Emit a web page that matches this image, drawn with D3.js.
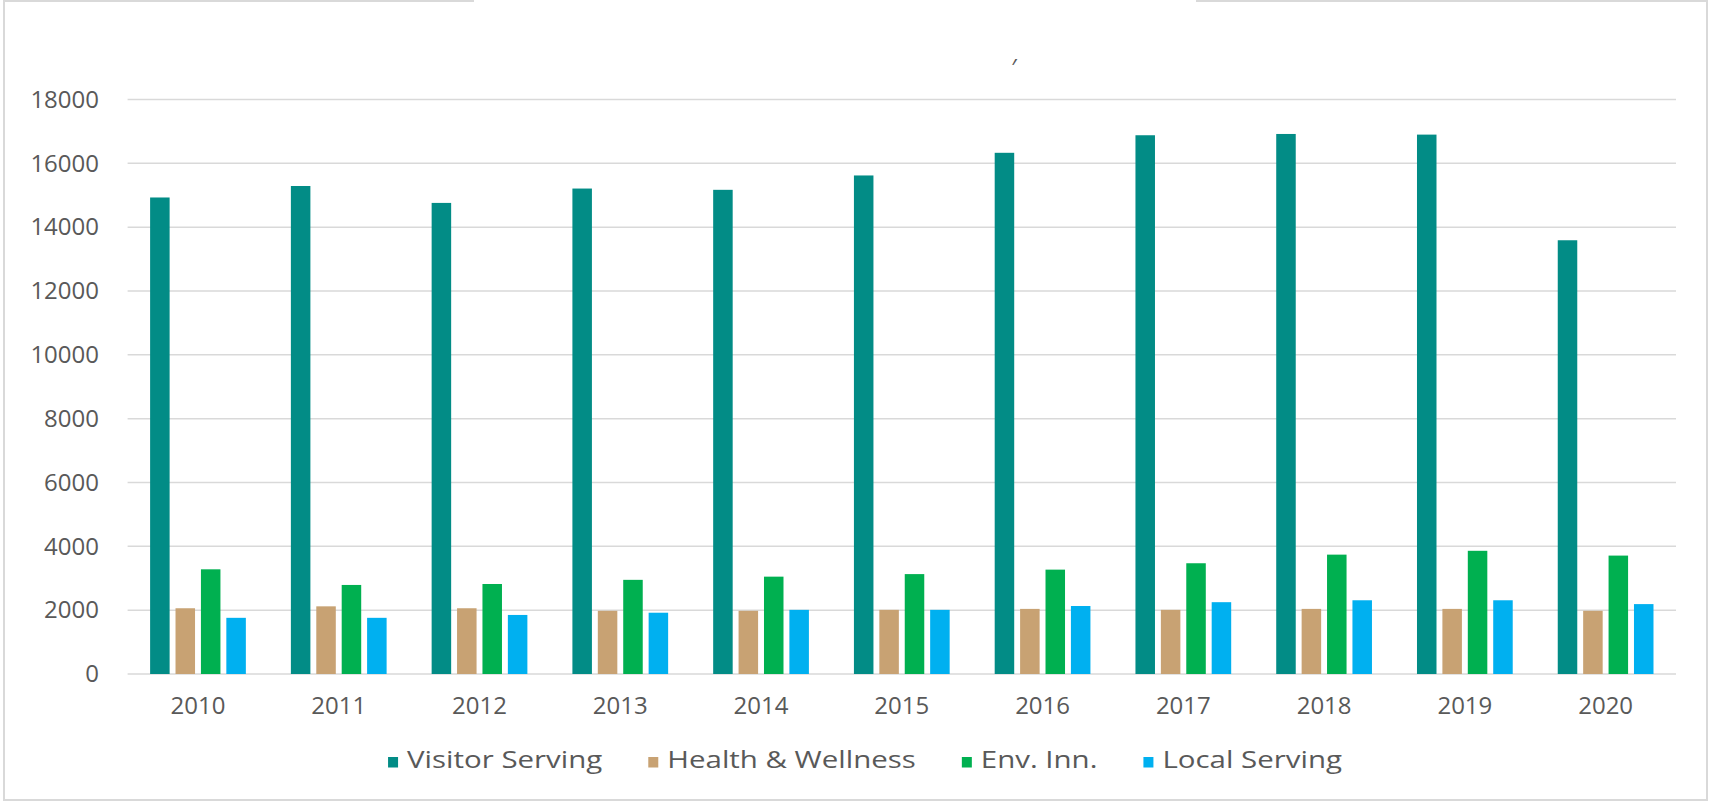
<!DOCTYPE html>
<meta charset="utf-8">
<style>
body { margin: 0; background: #fff; }
svg { display: block; font-family: "Open Sans", sans-serif; }
.axis path, .axis line { display: none; }
.axis text { fill: #595959; font-size: 24px; font-family: "Open Sans", sans-serif; }
.grid line { stroke: #d9d9d9; stroke-width: 1.5px; }
.frame { fill: none; stroke: #d9d9d9; stroke-width: 2px; }
.legend text { fill: #595959; font-size: 23px; font-family: "Open Sans", sans-serif; }
</style>
<body>
<svg width="1710" height="804"></svg>
<script src="https://d3js.org/d3.v7.min.js"></script>
<script>
var years = ["2010", "2011", "2012", "2013", "2014", "2015", "2016", "2017", "2018", "2019", "2020"];
var seriesNames = ["Visitor Serving", "Health & Wellness", "Env. Inn.", "Local Serving"];
var visitorServing = [14930, 15290, 14760, 15210, 15170, 15620, 16330, 16880, 16920, 16900, 13590];
var healthWellness = [2060, 2120, 2060, 1980, 1980, 2010, 2040, 2010, 2040, 2040, 1980];
var envInn = [3280, 2790, 2820, 2950, 3050, 3130, 3270, 3470, 3740, 3860, 3710];
var localServing = [1760, 1760, 1850, 1920, 2010, 2010, 2130, 2250, 2310, 2310, 2190];
var yTicks = [0, 2000, 4000, 6000, 8000, 10000, 12000, 14000, 16000, 18000];
var colors = ["#028c86", "#c8a273", "#00b050", "#00b0f0"];

var seriesValues = [visitorServing, healthWellness, envInn, localServing];

var svg = d3.select("svg"),
    margin = {top: 99.5, right: 34, bottom: 130, left: 127.6},
    width = +svg.attr("width") - margin.left - margin.right,
    height = +svg.attr("height") - margin.top - margin.bottom;

// outer frame, top edge has a gap in the middle like the source image
svg.append("path")
    .attr("class", "frame")
    .attr("d", "M474,1 H4 V800 H1707 V1 H1196");

// stray mark where the title used to be
svg.append("text")
    .attr("x", 1014)
    .attr("y", 76)
    .attr("text-anchor", "middle")
    .style("font-size", "24px")
    .style("fill", "#595959")
    .text("′");

var g = svg.append("g").attr("transform", "translate(" + margin.left + "," + margin.top + ")");

var x0 = d3.scaleBand().domain(years).range([0, width]).padding(0);
var x1 = d3.scaleBand().domain(seriesNames).range([0, x0.bandwidth()])
    .paddingInner(0.232).paddingOuter(0.886);
var y = d3.scaleLinear().domain([0, 18000]).range([height, 0]);
var z = d3.scaleOrdinal().domain(seriesNames).range(colors);

g.append("g")
    .attr("class", "grid")
  .selectAll("line")
  .data(yTicks)
  .enter().append("line")
    .attr("x1", 0)
    .attr("x2", width)
    .attr("y1", function(d) { return y(d); })
    .attr("y2", function(d) { return y(d); });

g.append("g")
    .attr("class", "axis axis--y")
    .call(d3.axisLeft(y).tickValues(yTicks).tickSize(0).tickPadding(28.6).tickFormat(d3.format("d")));

g.append("g")
    .attr("class", "axis axis--x")
    .attr("transform", "translate(0," + height + ")")
    .call(d3.axisBottom(x0).tickSize(0).tickPadding(23));

var data = years.map(function(yr, i) {
  return {year: yr, values: seriesNames.map(function(s, j) { return {key: s, value: seriesValues[j][i]}; })};
});

g.selectAll(".year")
  .data(data)
  .enter().append("g")
    .attr("class", "year")
    .attr("transform", function(d) { return "translate(" + x0(d.year) + ",0)"; })
  .selectAll("rect")
  .data(function(d) { return d.values; })
  .enter().append("rect")
    .attr("x", function(d) { return x1(d.key); })
    .attr("width", x1.bandwidth())
    .attr("y", function(d) { return y(d.value); })
    .attr("height", function(d) { return height - y(d.value); })
    .attr("fill", function(d) { return z(d.key); });

// legend
var legend = svg.append("g").attr("class", "legend");
var stretch = 1.28, sw = 10, gapText = 9, gapItem = 46;
var items = legend.selectAll("g")
  .data(seriesNames)
  .enter().append("g");

items.append("rect")
    .attr("width", sw)
    .attr("height", 10.5)
    .attr("y", 757)
    .attr("fill", function(d) { return z(d); });

items.append("text")
    .attr("x", sw + gapText)
    .attr("y", 768)
    .text(function(d) { return d; })
    .each(function() {
      var w = this.getComputedTextLength() * stretch;
      d3.select(this).attr("textLength", w).attr("lengthAdjust", "spacingAndGlyphs");
      this.__w = w;
    });

var cursor = 0, offsets = [];
items.each(function(d, i) {
  offsets.push(cursor);
  cursor += sw + gapText + d3.select(this).select("text").node().__w + gapItem;
});
var total = cursor - gapItem;
var startX = 865 - total / 2;
items.attr("transform", function(d, i) { return "translate(" + (startX + offsets[i]) + ",0)"; });
</script>
</body>
